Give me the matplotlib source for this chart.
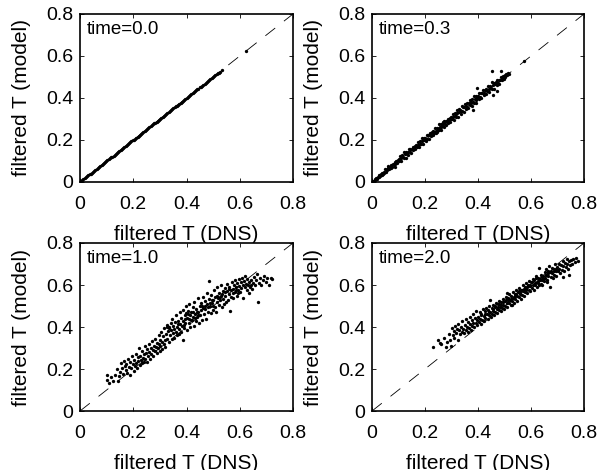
import matplotlib
matplotlib.use('Agg')
import matplotlib.pyplot as plt

plt.rcParams['font.family'] = ['Liberation Sans', 'DejaVu Sans']
plt.rcParams['lines.scale_dashes'] = False

# ---------------- data (filtered T: DNS vs model) ----------------
titles = ['time=0.0', 'time=0.3', 'time=1.0', 'time=2.0']
tick_values = [0, 0.2, 0.4, 0.6, 0.8]
tick_labels = ['0', '0.2', '0.4', '0.6', '0.8']
xlabel_text = 'filtered T (DNS)'
ylabel_text = 'filtered T (model)'

# time = 0.0 : model equals DNS
dns_t00 = [0.000, 0.004, 0.009, 0.013, 0.018, 0.022, 0.027, 0.031, 0.036, 0.040,
           0.045, 0.049, 0.054, 0.058, 0.063, 0.067, 0.072, 0.076, 0.081, 0.085,
           0.090, 0.094, 0.099, 0.103, 0.108, 0.112, 0.117, 0.121, 0.126, 0.130,
           0.135, 0.139, 0.144, 0.148, 0.153, 0.157, 0.162, 0.166, 0.171, 0.175,
           0.180, 0.184, 0.189, 0.193, 0.198, 0.202, 0.207, 0.211, 0.216, 0.220,
           0.225, 0.229, 0.234, 0.238, 0.243, 0.247, 0.252, 0.256, 0.261, 0.265,
           0.270, 0.274, 0.279, 0.283, 0.288, 0.292, 0.297, 0.301, 0.306, 0.310,
           0.315, 0.319, 0.324, 0.328, 0.333, 0.337, 0.342, 0.346, 0.351, 0.355,
           0.360, 0.364, 0.369, 0.373, 0.378, 0.382, 0.387, 0.391, 0.396, 0.400,
           0.405, 0.409, 0.414, 0.418, 0.423, 0.427, 0.432, 0.436, 0.441, 0.445,
           0.450, 0.454, 0.459, 0.463, 0.468, 0.472, 0.477, 0.481, 0.486, 0.490,
           0.495, 0.499, 0.504, 0.508, 0.513, 0.517, 0.521, 0.526, 0.534, 0.625]
model_t00 = dns_t00

# time = 0.3 : (DNS, model) pairs
pairs_t03 = [
    (0.004, 0.006), (0.007, 0.004), (0.010, 0.013), (0.013, 0.011), (0.016, 0.020),
    (0.019, 0.016), (0.022, 0.026), (0.025, 0.022), (0.027, 0.031), (0.030, 0.027),
    (0.033, 0.040), (0.036, 0.033), (0.039, 0.042), (0.041, 0.037), (0.044, 0.050),
    (0.047, 0.045), (0.050, 0.060), (0.053, 0.049), (0.056, 0.062), (0.058, 0.055),
    (0.061, 0.068), (0.064, 0.060), (0.067, 0.073), (0.070, 0.066), (0.073, 0.082),
    (0.076, 0.071), (0.079, 0.087), (0.082, 0.079), (0.085, 0.094), (0.088, 0.084),
    (0.091, 0.098), (0.094, 0.092), (0.097, 0.106), (0.085, 0.072), (0.060, 0.074),
    (0.100, 0.110), (0.103, 0.101), (0.105, 0.123), (0.109, 0.113), (0.110, 0.101),
    (0.114, 0.127), (0.116, 0.117), (0.119, 0.114), (0.121, 0.142), (0.124, 0.131),
    (0.127, 0.115), (0.129, 0.144), (0.132, 0.135), (0.134, 0.143), (0.137, 0.130),
    (0.140, 0.159), (0.142, 0.141), (0.145, 0.156), (0.148, 0.138), (0.150, 0.156),
    (0.153, 0.169), (0.156, 0.152), (0.158, 0.160), (0.161, 0.173), (0.164, 0.156),
    (0.166, 0.176), (0.169, 0.167), (0.172, 0.190), (0.174, 0.178), (0.177, 0.168),
    (0.180, 0.193), (0.182, 0.183), (0.185, 0.180), (0.188, 0.209), (0.190, 0.197),
    (0.193, 0.181), (0.196, 0.211), (0.198, 0.201),
    (0.201, 0.210), (0.203, 0.196), (0.206, 0.225), (0.208, 0.207), (0.211, 0.222),
    (0.214, 0.204), (0.216, 0.222), (0.219, 0.235), (0.222, 0.218), (0.224, 0.226),
    (0.227, 0.239), (0.230, 0.222), (0.232, 0.242), (0.235, 0.233), (0.238, 0.256),
    (0.240, 0.244), (0.243, 0.234), (0.246, 0.259), (0.248, 0.249), (0.251, 0.246),
    (0.254, 0.275), (0.256, 0.263), (0.259, 0.247), (0.262, 0.277), (0.264, 0.267),
    (0.267, 0.276), (0.270, 0.263), (0.272, 0.291), (0.275, 0.274), (0.278, 0.289),
    (0.280, 0.270), (0.283, 0.289), (0.286, 0.302), (0.288, 0.284), (0.291, 0.293),
    (0.294, 0.306), (0.296, 0.288), (0.299, 0.309), (0.252, 0.258), (0.262, 0.262),
    (0.273, 0.281), (0.285, 0.280), (0.297, 0.300), (0.245, 0.240), (0.268, 0.285),
    (0.301, 0.299), (0.304, 0.324), (0.306, 0.311), (0.309, 0.296), (0.312, 0.327),
    (0.314, 0.314), (0.317, 0.310), (0.320, 0.345), (0.322, 0.330), (0.325, 0.309),
    (0.328, 0.346), (0.330, 0.333), (0.333, 0.344), (0.336, 0.326), (0.338, 0.360),
    (0.341, 0.339), (0.344, 0.357), (0.346, 0.332), (0.349, 0.356), (0.352, 0.371),
    (0.354, 0.348), (0.357, 0.359), (0.360, 0.374), (0.362, 0.351), (0.365, 0.377),
    (0.368, 0.365), (0.370, 0.391), (0.373, 0.377), (0.376, 0.364), (0.378, 0.393),
    (0.381, 0.382), (0.384, 0.377), (0.386, 0.410), (0.389, 0.397), (0.392, 0.377),
    (0.394, 0.411), (0.397, 0.400), (0.380, 0.343), (0.395, 0.448), (0.335, 0.340),
    (0.355, 0.362), (0.372, 0.383), (0.391, 0.390), (0.318, 0.322),
    (0.400, 0.410), (0.403, 0.395), (0.405, 0.425), (0.408, 0.407), (0.411, 0.423),
    (0.413, 0.399), (0.416, 0.422), (0.419, 0.437), (0.421, 0.415), (0.424, 0.426),
    (0.427, 0.440), (0.429, 0.418), (0.432, 0.441), (0.435, 0.432), (0.437, 0.457),
    (0.440, 0.443), (0.443, 0.430), (0.445, 0.459), (0.448, 0.448), (0.451, 0.443),
    (0.453, 0.475), (0.456, 0.462), (0.459, 0.443), (0.461, 0.473), (0.464, 0.465),
    (0.467, 0.475), (0.470, 0.460), (0.472, 0.488), (0.475, 0.473), (0.478, 0.488),
    (0.480, 0.468), (0.483, 0.487), (0.486, 0.500), (0.489, 0.484), (0.491, 0.493),
    (0.494, 0.504), (0.497, 0.489), (0.500, 0.508), (0.503, 0.499), (0.506, 0.512),
    (0.510, 0.510), (0.514, 0.518), (0.518, 0.516), (0.457, 0.414), (0.487, 0.529),
    (0.453, 0.529), (0.470, 0.435), (0.575, 0.575),
]

# time = 1.0 : (DNS, model) pairs
pairs_t10 = [
    (0.100, 0.150), (0.102, 0.170), (0.108, 0.135), (0.118, 0.160), (0.125, 0.145),
    (0.132, 0.172), (0.138, 0.200), (0.142, 0.143), (0.148, 0.165),
    (0.152, 0.185), (0.155, 0.228), (0.158, 0.205), (0.162, 0.175), (0.165, 0.240),
    (0.168, 0.212), (0.171, 0.195), (0.174, 0.225), (0.177, 0.182), (0.180, 0.250),
    (0.183, 0.210), (0.186, 0.233), (0.189, 0.170), (0.192, 0.205), (0.196, 0.262),
    (0.199, 0.225),
    (0.201, 0.190), (0.204, 0.242), (0.206, 0.215), (0.209, 0.270), (0.211, 0.230),
    (0.214, 0.205), (0.216, 0.255), (0.219, 0.238), (0.221, 0.300), (0.224, 0.218),
    (0.226, 0.262), (0.229, 0.245), (0.231, 0.228), (0.234, 0.285), (0.236, 0.252),
    (0.239, 0.232), (0.241, 0.270), (0.244, 0.310), (0.246, 0.248), (0.249, 0.278),
    (0.251, 0.235), (0.253, 0.295), (0.256, 0.262), (0.258, 0.320), (0.261, 0.282),
    (0.263, 0.250), (0.266, 0.300), (0.268, 0.272), (0.271, 0.335), (0.273, 0.290),
    (0.276, 0.262), (0.278, 0.310), (0.281, 0.285), (0.283, 0.345), (0.286, 0.305),
    (0.288, 0.275), (0.291, 0.325), (0.293, 0.298), (0.296, 0.360), (0.298, 0.318),
    (0.299, 0.285), (0.300, 0.340),
    (0.302, 0.310), (0.304, 0.375), (0.307, 0.330), (0.309, 0.295), (0.311, 0.355),
    (0.314, 0.320), (0.316, 0.395), (0.318, 0.340), (0.321, 0.305), (0.323, 0.365),
    (0.326, 0.345), (0.328, 0.410), (0.331, 0.380), (0.333, 0.330), (0.336, 0.400),
    (0.338, 0.360), (0.341, 0.420), (0.343, 0.385), (0.346, 0.345), (0.348, 0.405),
    (0.350, 0.372), (0.347, 0.440), (0.335, 0.395), (0.325, 0.400),
    (0.352, 0.350), (0.354, 0.392), (0.357, 0.425), (0.359, 0.375), (0.362, 0.455),
    (0.364, 0.402), (0.366, 0.360), (0.369, 0.430), (0.371, 0.390), (0.374, 0.470),
    (0.376, 0.415), (0.378, 0.378), (0.381, 0.445), (0.383, 0.405), (0.386, 0.480),
    (0.388, 0.428), (0.391, 0.395), (0.393, 0.455), (0.396, 0.420), (0.398, 0.500),
    (0.385, 0.340), (0.372, 0.365), (0.395, 0.440), (0.367, 0.412), (0.390, 0.410),
    (0.399, 0.468),
    (0.401, 0.385), (0.403, 0.445), (0.406, 0.478), (0.408, 0.420), (0.411, 0.510),
    (0.413, 0.455), (0.415, 0.400), (0.418, 0.470), (0.420, 0.432), (0.423, 0.495),
    (0.425, 0.448), (0.427, 0.405), (0.430, 0.520), (0.432, 0.462), (0.435, 0.430),
    (0.437, 0.485), (0.440, 0.450), (0.442, 0.540), (0.445, 0.470), (0.447, 0.420),
    (0.449, 0.500), (0.410, 0.440), (0.417, 0.432), (0.426, 0.470), (0.433, 0.445),
    (0.438, 0.470), (0.444, 0.455), (0.405, 0.460),
    (0.451, 0.455), (0.453, 0.515), (0.456, 0.480), (0.458, 0.435), (0.461, 0.545),
    (0.463, 0.492), (0.466, 0.460), (0.468, 0.525), (0.471, 0.500), (0.473, 0.440),
    (0.476, 0.560), (0.478, 0.510), (0.481, 0.472), (0.483, 0.620), (0.486, 0.535),
    (0.488, 0.498), (0.491, 0.465), (0.493, 0.552), (0.496, 0.515), (0.498, 0.482),
    (0.457, 0.500), (0.469, 0.485), (0.479, 0.495), (0.487, 0.515), (0.494, 0.530),
    (0.499, 0.500),
    (0.501, 0.530), (0.503, 0.575), (0.506, 0.495), (0.508, 0.545), (0.511, 0.470),
    (0.513, 0.520), (0.516, 0.590), (0.518, 0.538), (0.521, 0.505), (0.523, 0.560),
    (0.526, 0.528), (0.528, 0.600), (0.531, 0.550), (0.533, 0.495), (0.536, 0.570),
    (0.538, 0.535), (0.541, 0.510), (0.543, 0.585), (0.546, 0.548), (0.548, 0.520),
    (0.515, 0.550), (0.525, 0.545), (0.535, 0.555), (0.545, 0.565),
    (0.551, 0.570), (0.553, 0.605), (0.556, 0.530), (0.558, 0.555), (0.561, 0.590),
    (0.563, 0.475), (0.566, 0.575), (0.568, 0.545), (0.571, 0.615), (0.573, 0.580),
    (0.576, 0.540), (0.578, 0.600), (0.581, 0.565), (0.583, 0.625), (0.586, 0.590),
    (0.588, 0.550), (0.591, 0.610), (0.593, 0.578), (0.596, 0.630), (0.598, 0.595),
    (0.560, 0.580), (0.574, 0.560), (0.585, 0.575), (0.595, 0.560),
    (0.601, 0.565), (0.603, 0.615), (0.606, 0.585), (0.608, 0.635), (0.611, 0.600),
    (0.613, 0.540), (0.616, 0.620), (0.618, 0.590), (0.621, 0.645), (0.623, 0.605),
    (0.626, 0.575), (0.628, 0.630), (0.631, 0.598), (0.633, 0.560), (0.636, 0.615),
    (0.638, 0.590), (0.641, 0.600), (0.644, 0.625), (0.647, 0.580), (0.649, 0.610),
    (0.652, 0.640), (0.656, 0.600), (0.660, 0.625), (0.664, 0.652), (0.668, 0.520),
    (0.672, 0.610), (0.676, 0.635), (0.680, 0.600), (0.686, 0.625), (0.692, 0.645),
    (0.698, 0.615), (0.704, 0.635), (0.710, 0.600), (0.716, 0.633), (0.722, 0.628),
]

# time = 2.0 : (DNS, model) pairs
pairs_t20 = [
    (0.230, 0.305), (0.248, 0.340), (0.255, 0.325), (0.262, 0.318), (0.270, 0.350),
    (0.278, 0.305), (0.284, 0.330), (0.290, 0.365), (0.295, 0.340), (0.298, 0.310),
    (0.301, 0.395), (0.304, 0.360), (0.308, 0.380), (0.311, 0.350), (0.314, 0.405),
    (0.317, 0.372), (0.320, 0.390), (0.323, 0.340), (0.326, 0.415), (0.329, 0.385),
    (0.332, 0.365), (0.335, 0.400), (0.338, 0.375), (0.341, 0.428), (0.344, 0.392),
    (0.347, 0.370),
    (0.351, 0.410), (0.353, 0.385), (0.356, 0.440), (0.358, 0.400), (0.361, 0.375),
    (0.363, 0.425), (0.366, 0.395), (0.368, 0.450), (0.371, 0.412), (0.373, 0.388),
    (0.376, 0.435), (0.378, 0.405), (0.381, 0.462), (0.383, 0.420), (0.386, 0.398),
    (0.388, 0.445), (0.391, 0.418), (0.393, 0.475), (0.396, 0.435), (0.398, 0.410),
    (0.401, 0.450), (0.403, 0.425), (0.406, 0.470), (0.408, 0.440), (0.411, 0.415),
    (0.413, 0.462), (0.416, 0.435), (0.418, 0.485), (0.421, 0.452), (0.423, 0.428),
    (0.426, 0.475), (0.428, 0.445), (0.431, 0.490), (0.433, 0.460), (0.436, 0.438),
    (0.438, 0.482), (0.441, 0.455), (0.443, 0.500), (0.446, 0.470), (0.448, 0.448),
    (0.445, 0.530), (0.410, 0.455), (0.425, 0.460), (0.440, 0.470),
    (0.451, 0.490), (0.453, 0.462), (0.456, 0.505), (0.458, 0.478), (0.461, 0.455),
    (0.463, 0.500), (0.466, 0.472), (0.468, 0.515), (0.471, 0.488), (0.473, 0.465),
    (0.476, 0.508), (0.478, 0.482), (0.481, 0.525), (0.483, 0.495), (0.486, 0.475),
    (0.488, 0.518), (0.491, 0.492), (0.493, 0.535), (0.496, 0.505), (0.498, 0.485),
    (0.455, 0.485), (0.465, 0.495), (0.475, 0.495), (0.485, 0.505), (0.495, 0.520),
    (0.480, 0.510),
    (0.501, 0.525), (0.503, 0.500), (0.506, 0.545), (0.508, 0.515), (0.511, 0.495),
    (0.513, 0.538), (0.516, 0.512), (0.518, 0.555), (0.521, 0.528), (0.523, 0.505),
    (0.526, 0.548), (0.528, 0.522), (0.531, 0.565), (0.533, 0.538), (0.536, 0.515),
    (0.538, 0.558), (0.541, 0.532), (0.543, 0.575), (0.546, 0.548), (0.548, 0.525),
    (0.505, 0.530), (0.515, 0.528), (0.525, 0.535), (0.535, 0.545), (0.545, 0.555),
    (0.510, 0.560), (0.530, 0.505), (0.540, 0.548),
    (0.551, 0.568), (0.553, 0.542), (0.556, 0.585), (0.558, 0.558), (0.561, 0.535),
    (0.563, 0.578), (0.566, 0.552), (0.568, 0.598), (0.571, 0.570), (0.573, 0.548),
    (0.576, 0.590), (0.578, 0.565), (0.581, 0.610), (0.583, 0.582), (0.586, 0.560),
    (0.588, 0.602), (0.591, 0.578), (0.593, 0.620), (0.596, 0.595), (0.598, 0.572),
    (0.555, 0.570), (0.565, 0.575), (0.575, 0.580), (0.585, 0.590), (0.595, 0.600),
    (0.560, 0.560), (0.580, 0.575), (0.590, 0.595),
    (0.601, 0.612), (0.603, 0.585), (0.606, 0.630), (0.608, 0.600), (0.611, 0.578),
    (0.613, 0.622), (0.616, 0.598), (0.618, 0.642), (0.621, 0.615), (0.623, 0.592),
    (0.626, 0.635), (0.628, 0.610), (0.631, 0.682), (0.633, 0.628), (0.636, 0.605),
    (0.638, 0.648), (0.641, 0.622), (0.643, 0.600), (0.646, 0.642), (0.648, 0.618),
    (0.605, 0.615), (0.615, 0.610), (0.625, 0.620), (0.635, 0.625), (0.645, 0.630),
    (0.620, 0.635), (0.640, 0.640), (0.630, 0.600),
    (0.651, 0.660), (0.653, 0.632), (0.656, 0.675), (0.658, 0.648), (0.661, 0.625),
    (0.663, 0.668), (0.666, 0.642), (0.668, 0.690), (0.671, 0.590), (0.673, 0.660),
    (0.676, 0.638), (0.678, 0.680), (0.681, 0.655), (0.683, 0.632), (0.686, 0.675),
    (0.688, 0.650), (0.691, 0.698), (0.693, 0.668), (0.696, 0.645), (0.698, 0.688),
    (0.655, 0.650), (0.665, 0.655), (0.675, 0.665), (0.685, 0.665), (0.695, 0.675),
    (0.660, 0.612),
    (0.701, 0.665), (0.704, 0.700), (0.707, 0.678), (0.710, 0.655), (0.713, 0.695),
    (0.716, 0.672), (0.719, 0.715), (0.722, 0.690), (0.725, 0.668), (0.728, 0.705),
    (0.731, 0.685), (0.734, 0.725), (0.737, 0.700), (0.740, 0.678), (0.744, 0.712),
    (0.748, 0.695), (0.752, 0.718), (0.756, 0.700), (0.760, 0.722), (0.765, 0.708),
    (0.770, 0.728), (0.776, 0.715), (0.742, 0.650), (0.720, 0.640),
]

dns_t03 = [p[0] for p in pairs_t03]
model_t03 = [p[1] for p in pairs_t03]
dns_t10 = [p[0] for p in pairs_t10]
model_t10 = [p[1] for p in pairs_t10]
dns_t20 = [p[0] for p in pairs_t20]
model_t20 = [p[1] for p in pairs_t20]

series = [(dns_t00, model_t00), (dns_t03, model_t03),
          (dns_t10, model_t10), (dns_t20, model_t20)]

# ---------------- figure ----------------
W, H = 607, 470
fig = plt.figure(figsize=(W / 100, H / 100), dpi=100)

# axes boxes in pixels: (left, top, right, bottom)
boxes = [(80, 14, 293, 182), (372, 14, 584, 182),
         (80, 243, 293, 411), (372, 243, 584, 411)]

for (l, t, r, b), title, (xs, ys) in zip(boxes, titles, series):
    ax = fig.add_axes([l / W, 1 - b / H, (r - l) / W, (b - t) / H])
    ax.plot([tick_values[0], tick_values[-1]], [tick_values[0], tick_values[-1]],
            color='black', lw=0.6, dashes=(9, 8), zorder=3)
    ax.plot(xs, ys, linestyle='none', marker='o', ms=2.4, mew=0,
            color='black', zorder=2)
    ax.set_xlim(tick_values[0], tick_values[-1])
    ax.set_ylim(tick_values[0], tick_values[-1])
    ax.set_xticks(tick_values)
    ax.set_xticklabels(tick_labels)
    ax.set_yticks(tick_values)
    ax.set_yticklabels(tick_labels)
    ax.tick_params(direction='in', top=True, right=True, length=3, width=0.6,
                   labelsize=14)
    ax.tick_params(axis='x', pad=10)
    ax.tick_params(axis='y', pad=5)
    for s in ax.spines.values():
        s.set_linewidth(1.2)
    ax.set_xlabel(xlabel_text, fontsize=15, labelpad=9)
    ax.set_ylabel(ylabel_text, fontsize=15, labelpad=11)
    ax.text(0.03, 0.96, title, transform=ax.transAxes, ha='left', va='top',
            fontsize=13.5)

fig.savefig('out.png', dpi=100)
